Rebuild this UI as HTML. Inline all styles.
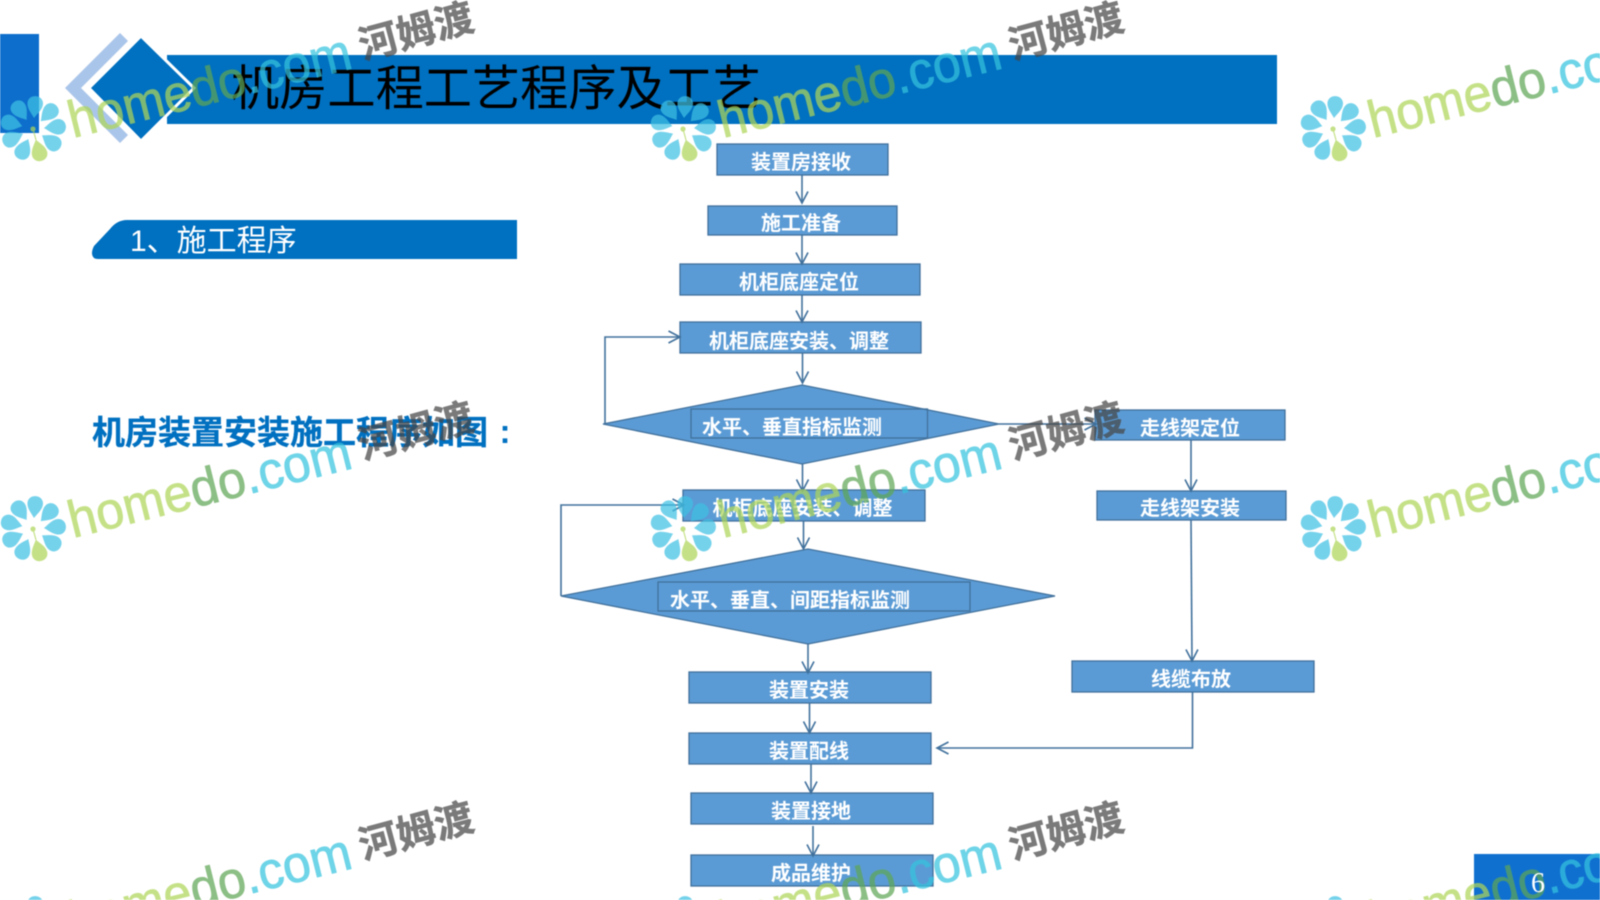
<!DOCTYPE html>
<html><head><meta charset="utf-8"><style>
html,body{margin:0;padding:0;background:#fff;width:1600px;height:900px;overflow:hidden}
#w{width:1600px;height:900px;overflow:hidden;position:relative}
svg{display:block;overflow:hidden;filter:blur(.45px)}
text{font-family:"Liberation Sans","Noto Sans CJK SC",sans-serif}
.b{fill:#5b9bd5;stroke:#41719c;stroke-width:1.3}
.t{fill:#fff;font-size:20px;font-weight:700;text-anchor:middle}
.a{fill:none;stroke:#41719c;stroke-width:1.6;marker-end:url(#ah)}
.h{font-size:52px}
.g1{fill:#aed658;stroke:#aed658;stroke-width:.8}
.g2{fill:#5fa655;stroke:#5fa655;stroke-width:.8}
.g3{fill:#36c4de;stroke:#36c4de;stroke-width:.8}
.c{font-size:39px;font-weight:700;fill:#464646;stroke:#464646;stroke-width:.5;text-anchor:middle}
</style></head><body><div id="w">
<svg width="1600" height="900" viewBox="0 0 1600 900" xmlns="http://www.w3.org/2000/svg">
<defs>
<marker id="ah" markerUnits="userSpaceOnUse" markerWidth="16" markerHeight="16" refX="13" refY="8" orient="auto"><path d="M1.5 2 L13 8 L1.5 14" fill="none" stroke="#41719c" stroke-width="1.6"/></marker>
<path id="p" d="M0 -11 C2.500 -15 8 -20 7.800 -26 C7.500 -30.500 4 -33 0 -33 C-4 -33 -7.500 -30.500 -7.800 -26 C-8 -20 -2.500 -15 0 -11Z"/>
<g id="fl">
<g fill="#3fc0e4">
<use href="#p" transform="rotate(5)"/><use href="#p" transform="rotate(45)"/><use href="#p" transform="rotate(85)"/><use href="#p" transform="rotate(125)"/><use href="#p" transform="rotate(205)"/><use href="#p" transform="rotate(245)"/><use href="#p" transform="rotate(285)"/><use href="#p" transform="rotate(325)"/>
</g>
<use href="#p" transform="rotate(165)" fill="#aed658"/>
<circle cx="0" cy="0" r="2.600" fill="#aed658"/>
<path d="M0 0 L3 11" stroke="#aed658" stroke-width="1.2"/>
</g>
</defs>
<rect width="1600" height="900" fill="#fff"/>

<rect x="0" y="34" width="39" height="99" fill="#0d6ecb"/>
<rect x="167" y="55" width="1110" height="69" fill="#0070c0"/>
<path d="M120 33 L65 88 L120 143 L128 135 L81 88 L128 41Z" fill="#a9c6ea"/>
<path d="M141 36 L194 88 L141 141 L89 88Z" fill="#0070c0" stroke="#fff" stroke-width="3"/>
<text x="231" y="105" font-size="48.2" fill="#000">机房工程工艺程序及工艺</text>

<path d="M517 220 H127 Q117 220 110 229 L94 246 Q92 250 92 253 Q92 259 98 259 H517 Z" fill="#0070c0"/>
<text x="130" y="251" font-size="30" fill="#fff">1、施工程序</text>
<text x="92" y="444" font-size="33" font-weight="700" fill="#0070c0" stroke="#0070c0" stroke-width=".3">机房装置安装施工程序如图</text>
<text x="505" y="443" font-size="33" font-weight="700" fill="#0070c0" text-anchor="middle">:</text>

<rect class="b" x="717" y="144" width="171" height="31"/>
<rect class="b" x="708" y="206" width="189" height="29"/>
<rect class="b" x="680" y="264" width="240" height="31"/>
<rect class="b" x="680" y="322" width="241" height="31"/>
<path class="b" d="M603 424 L802 385 L999 424 L802 464Z"/>
<rect x="691" y="409" width="236.500" height="29" fill="none" stroke="#41719c" stroke-width="1.3"/>
<rect class="b" x="683" y="490" width="242" height="31"/>
<path class="b" d="M561 596 L808 549 L1055 596 L808 644Z"/>
<rect x="658" y="582" width="312" height="29" fill="none" stroke="#41719c" stroke-width="1.3"/>
<rect class="b" x="689" y="672" width="242" height="31"/>
<rect class="b" x="689" y="733" width="242" height="31"/>
<rect class="b" x="691" y="793" width="242" height="31"/>
<rect class="b" x="691" y="855" width="242" height="31"/>
<rect class="b" x="1095" y="410" width="190" height="30"/>
<rect class="b" x="1097" y="491" width="189" height="29"/>
<rect class="b" x="1072" y="661" width="242" height="31"/>

<path class="a" d="M802 175 V203"/>
<path class="a" d="M802 235 V264"/>
<path class="a" d="M802 295 V322"/>
<path class="a" d="M802.500 353 V383"/>
<path class="a" d="M802.500 464 V491"/>
<path class="a" d="M803.500 521 V549"/>
<path class="a" d="M808 644 V673"/>
<path class="a" d="M809.500 703 V733"/>
<path class="a" d="M811 764 V793"/>
<path class="a" d="M813 826 V856"/>
<path class="a" d="M605 424 V337 H680"/>
<path class="a" d="M561 596 V505 H684"/>
<path class="a" d="M999 424 H1096"/>
<path class="a" d="M1191 440 V491"/>
<path class="a" d="M1191 520 L1192 661"/>
<path class="a" d="M1192.500 692 V748 H937"/>

<text class="t" x="801" y="169">装置房接收</text>
<text class="t" x="801" y="230">施工准备</text>
<text class="t" x="799" y="289">机柜底座定位</text>
<text class="t" x="799" y="348">机柜底座安装、调整</text>
<text class="t" x="792" y="434">水平、垂直指标监测</text>
<text class="t" x="802.500" y="515">机柜底座安装、调整</text>
<text class="t" x="790" y="607">水平、垂直、间距指标监测</text>
<text class="t" x="809" y="697">装置安装</text>
<text class="t" x="809" y="758">装置配线</text>
<text class="t" x="811" y="818">装置接地</text>
<text class="t" x="811" y="880">成品维护</text>
<text class="t" x="1190" y="435">走线架定位</text>
<text class="t" x="1190" y="515">走线架安装</text>
<text class="t" x="1191" y="686">线缆布放</text>

<rect x="1474" y="854" width="126" height="46" fill="#1070d0"/>

<g opacity=".72">
<g transform="translate(33 129)"><use href="#fl"/><text class="h" transform="translate(40 9) rotate(-14)" textLength="290" lengthAdjust="spacingAndGlyphs"><tspan class="g1">home</tspan><tspan class="g2">do</tspan><tspan class="g3">.com</tspan></text><text class="c" transform="translate(383 -98) rotate(-15)" y="14">河姆渡</text></g>
<g transform="translate(683 129)"><use href="#fl"/><text class="h" transform="translate(40 9) rotate(-14)" textLength="290" lengthAdjust="spacingAndGlyphs"><tspan class="g1">home</tspan><tspan class="g2">do</tspan><tspan class="g3">.com</tspan></text><text class="c" transform="translate(383 -98) rotate(-15)" y="14">河姆渡</text></g>
<g transform="translate(1333 129)"><use href="#fl"/><text class="h" transform="translate(40 9) rotate(-14)" textLength="290" lengthAdjust="spacingAndGlyphs"><tspan class="g1">home</tspan><tspan class="g2">do</tspan><tspan class="g3">.com</tspan></text></g>
<g transform="translate(33 529)"><use href="#fl"/><text class="h" transform="translate(40 9) rotate(-14)" textLength="290" lengthAdjust="spacingAndGlyphs"><tspan class="g1">home</tspan><tspan class="g2">do</tspan><tspan class="g3">.com</tspan></text><text class="c" transform="translate(383 -98) rotate(-15)" y="14">河姆渡</text></g>
<g transform="translate(683 529)"><use href="#fl"/><text class="h" transform="translate(40 9) rotate(-14)" textLength="290" lengthAdjust="spacingAndGlyphs"><tspan class="g1">home</tspan><tspan class="g2">do</tspan><tspan class="g3">.com</tspan></text><text class="c" transform="translate(383 -98) rotate(-15)" y="14">河姆渡</text></g>
<g transform="translate(1333 529)"><use href="#fl"/><text class="h" transform="translate(40 9) rotate(-14)" textLength="290" lengthAdjust="spacingAndGlyphs"><tspan class="g1">home</tspan><tspan class="g2">do</tspan><tspan class="g3">.com</tspan></text></g>
<g transform="translate(33 929)"><use href="#fl"/><text class="h" transform="translate(40 9) rotate(-14)" textLength="290" lengthAdjust="spacingAndGlyphs"><tspan class="g1">home</tspan><tspan class="g2">do</tspan><tspan class="g3">.com</tspan></text><text class="c" transform="translate(383 -98) rotate(-15)" y="14">河姆渡</text></g>
<g transform="translate(683 929)"><use href="#fl"/><text class="h" transform="translate(40 9) rotate(-14)" textLength="290" lengthAdjust="spacingAndGlyphs"><tspan class="g1">home</tspan><tspan class="g2">do</tspan><tspan class="g3">.com</tspan></text><text class="c" transform="translate(383 -98) rotate(-15)" y="14">河姆渡</text></g>
<g transform="translate(1333 929)"><use href="#fl"/><text class="h" transform="translate(40 9) rotate(-14)" textLength="290" lengthAdjust="spacingAndGlyphs"><tspan class="g1">home</tspan><tspan class="g2">do</tspan><tspan class="g3">.com</tspan></text></g>
</g>
<text x="1538" y="892" font-size="28" fill="#fff" text-anchor="middle" style="font-family:'Liberation Serif',serif">6</text>
</svg>
</div></body></html>
